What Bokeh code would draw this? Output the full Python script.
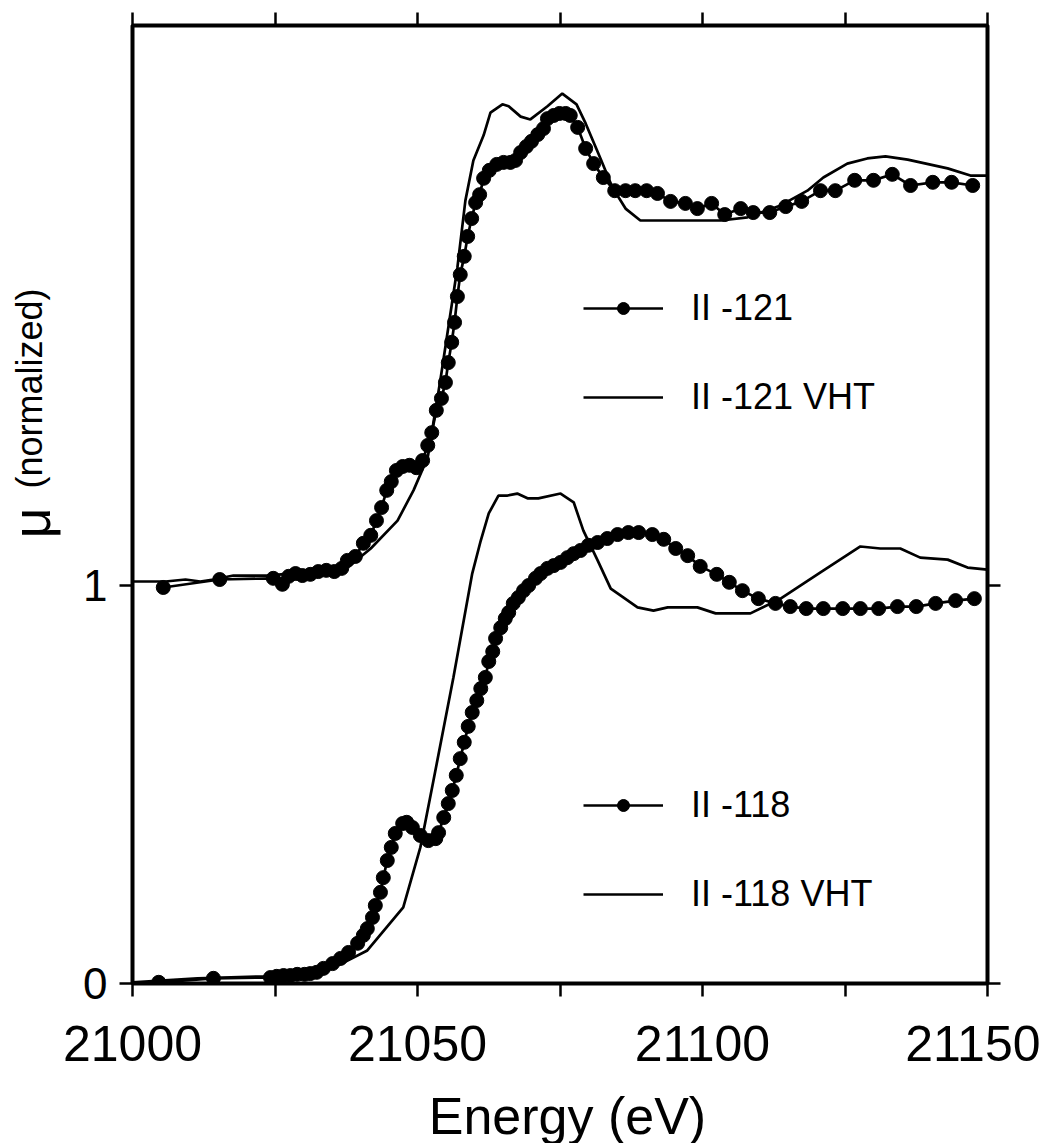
import math
from bokeh.plotting import figure
from bokeh.layouts import row, column
from bokeh.models import Range1d, LinearAxis, FixedTicker, Legend, LegendItem
from bokeh.core.properties import value
from bokeh.embed import file_html
from bokeh.resources import INLINE

FONT = "Liberation Sans"

# ---------------- data ----------------
x_ticks = [21000, 21025, 21050, 21075, 21100, 21125, 21150]
x_tick_labels = {21000: "21000", 21025: "", 21050: "21050", 21075: "", 21100: "21100", 21125: "", 21150: "21150"}
y_ticks = [0, 1]
x_title = "Energy (eV)"
y_title_symbol = "μ"
y_title_rest = "(normalized)"

# II -121 (points)
x121 = [21005.4, 21015.3, 21024.7, 21026.3, 21027.4, 21028.6, 21029.8, 21031.2, 21032.6, 21034.0,
        21035.4, 21036.7, 21037.7, 21039.1, 21040.5, 21041.8, 21042.8, 21043.7, 21044.6, 21045.4,
        21046.3, 21047.4, 21048.6, 21049.8, 21050.9, 21051.8, 21052.5, 21053.3, 21054.2, 21054.9,
        21055.4, 21056.0, 21056.5, 21057.0, 21057.5, 21058.2, 21058.8, 21059.5, 21060.2, 21060.9,
        21061.6, 21062.6, 21063.9, 21065.1, 21066.3, 21067.2, 21068.1, 21069.1, 21070.0, 21071.1,
        21072.1, 21072.8, 21073.9, 21074.9, 21076.0, 21076.8, 21078.1, 21079.5, 21080.9, 21082.6,
        21084.6, 21086.5, 21088.2, 21090.2, 21092.1, 21094.4, 21097.0, 21099.1, 21101.6, 21103.9,
        21106.7, 21108.9, 21111.8, 21114.6, 21117.4, 21120.7, 21123.3, 21126.7, 21130.0, 21133.3,
        21136.5, 21140.4, 21143.7, 21147.4]
y121 = [0.995, 1.015, 1.018, 1.003, 1.023, 1.030, 1.025, 1.028, 1.035, 1.038,
        1.035, 1.043, 1.063, 1.073, 1.106, 1.126, 1.163, 1.196, 1.239, 1.261,
        1.289, 1.299, 1.302, 1.296, 1.314, 1.352, 1.384, 1.440, 1.470, 1.510,
        1.560, 1.611, 1.661, 1.726, 1.781, 1.827, 1.877, 1.922, 1.962, 1.982,
        2.023, 2.043, 2.058, 2.063, 2.063, 2.068, 2.088, 2.103, 2.116, 2.133,
        2.148, 2.173, 2.181, 2.186, 2.186, 2.181, 2.151, 2.098, 2.060, 2.025,
        1.992, 1.992, 1.992, 1.992, 1.985, 1.965, 1.960, 1.947, 1.960, 1.932,
        1.947, 1.937, 1.937, 1.952, 1.965, 1.992, 1.992, 2.018, 2.018, 2.033,
        2.005, 2.013, 2.013, 2.005]

# II -121 VHT (line)
xv121 = [21000.0, 21005.8, 21009.3, 21011.9, 21014.2, 21017.7, 21024.2, 21027.2, 21037.7, 21041.8,
         21046.5, 21049.3, 21051.8, 21054.0, 21057.0, 21058.4, 21059.8, 21061.6, 21062.8, 21064.9,
         21066.0, 21068.1, 21069.8, 21072.8, 21075.4, 21077.9, 21079.5, 21082.1, 21084.2, 21086.5,
         21089.1, 21103.2, 21107.9, 21113.7, 21118.4, 21121.2, 21125.4, 21128.9, 21132.1, 21136.0,
         21143.0, 21147.0, 21150.0]
yv121 = [1.010, 1.010, 1.015, 1.010, 1.015, 1.025, 1.025, 1.030, 1.045, 1.093,
         1.163, 1.239, 1.322, 1.515, 1.799, 1.967, 2.068, 2.131, 2.188, 2.209,
         2.204, 2.178, 2.171, 2.204, 2.236, 2.209, 2.161, 2.073, 2.000, 1.947,
         1.917, 1.917, 1.925, 1.955, 1.992, 2.025, 2.060, 2.073, 2.078, 2.070,
         2.048, 2.030, 2.030]

# II -118 (points)
x118 = [21004.6, 21014.2, 21024.2, 21025.3, 21026.5, 21027.7, 21028.9, 21030.2, 21031.2, 21032.3,
        21033.5, 21035.1, 21036.5, 21037.9, 21039.5, 21040.5, 21041.2, 21042.1, 21042.6, 21043.5,
        21044.0, 21044.7, 21045.4, 21046.1, 21047.4, 21048.1, 21049.1, 21050.5, 21051.9, 21053.2,
        21053.7, 21054.6, 21055.4, 21056.1, 21056.8, 21057.5, 21058.2, 21058.9, 21059.6, 21060.4,
        21061.1, 21061.9, 21062.5, 21063.2, 21063.7, 21064.6, 21065.4, 21066.0, 21066.8, 21067.7,
        21068.6, 21069.5, 21070.7, 21071.6, 21072.8, 21073.9, 21075.1, 21076.3, 21077.4, 21078.6,
        21080.0, 21081.6, 21083.3, 21085.1, 21087.0, 21088.8, 21091.2, 21093.2, 21095.3, 21097.4,
        21099.6, 21102.5, 21104.7, 21107.0, 21109.8, 21112.8, 21115.4, 21118.2, 21121.2, 21124.6,
        21127.7, 21130.9, 21134.2, 21137.5, 21140.9, 21144.4, 21147.7]
y118 = [0.003, 0.013, 0.015, 0.018, 0.020, 0.020, 0.023, 0.023, 0.025, 0.028,
        0.038, 0.050, 0.063, 0.078, 0.101, 0.121, 0.138, 0.166, 0.196, 0.229,
        0.266, 0.309, 0.342, 0.377, 0.402, 0.405, 0.392, 0.372, 0.359, 0.364,
        0.379, 0.417, 0.452, 0.485, 0.523, 0.565, 0.606, 0.646, 0.681, 0.711,
        0.741, 0.769, 0.809, 0.834, 0.867, 0.894, 0.917, 0.932, 0.955, 0.970,
        0.987, 1.000, 1.018, 1.030, 1.043, 1.050, 1.058, 1.070, 1.080, 1.088,
        1.101, 1.108, 1.118, 1.128, 1.133, 1.133, 1.128, 1.116, 1.093, 1.075,
        1.048, 1.028, 1.008, 0.987, 0.967, 0.955, 0.947, 0.942, 0.942, 0.942,
        0.942, 0.942, 0.947, 0.947, 0.955, 0.962, 0.967]

# II -118 VHT (line)
xv118 = [21000.0, 21011.4, 21023.7, 21031.8, 21036.0, 21041.2, 21047.5, 21050.5, 21052.8, 21056.3,
         21059.6, 21061.1, 21062.5, 21064.2, 21065.8, 21067.5, 21069.3, 21071.2, 21075.1, 21077.4,
         21079.1, 21081.6, 21083.9, 21085.6, 21088.6, 21091.4, 21093.9, 21099.1, 21102.3, 21108.4,
         21113.7, 21120.7, 21127.7, 21131.2, 21134.7, 21138.2, 21143.0, 21146.5, 21150.0]
yv118 = [0.003, 0.013, 0.018, 0.028, 0.045, 0.083, 0.191, 0.342, 0.510, 0.769,
         1.030, 1.113, 1.181, 1.226, 1.226, 1.231, 1.219, 1.219, 1.231, 1.209,
         1.138, 1.063, 0.992, 0.975, 0.945, 0.937, 0.945, 0.945, 0.930, 0.930,
         0.967, 1.033, 1.098, 1.093, 1.093, 1.070, 1.065, 1.045, 1.040]

# ---------------- layout sizes ----------------
LEFT_W = 62          # strip holding the y title
BORDER_L = 70
MAIN_W = BORDER_L + 855 + 53
MAIN_H = 1085
BOTTOM_H = 58        # strip holding the x title
TOTAL_H = MAIN_H + BOTTOM_H

# ---------------- main figure ----------------
p = figure(width=MAIN_W, height=MAIN_H, output_backend="svg", toolbar_location=None,
           x_range=Range1d(21000, 21150), y_range=Range1d(0, 2.407),
           min_border_left=BORDER_L, min_border_right=53, min_border_top=25, min_border_bottom=102)
p.grid.visible = False
p.outline_line_color = "black"
p.outline_line_width = 4
p.background_fill_color = "white"
p.border_fill_color = "white"


def style_axis(ax, ticks, labels_on, label_size):
    ax.ticker = FixedTicker(ticks=ticks)
    ax.axis_line_color = None
    ax.major_tick_line_width = 2.5
    ax.major_tick_line_color = "black"
    ax.major_tick_out = 13
    ax.major_tick_in = 0
    ax.minor_tick_line_color = None
    if labels_on:
        ax.major_label_text_font = FONT
        ax.major_label_text_font_size = label_size
        ax.major_label_text_color = "black"
    else:
        ax.major_label_text_font_size = "0px"
        ax.major_label_text_color = None


xb = p.xaxis[0]
style_axis(xb, x_ticks, True, "50px")
xb.major_label_overrides = x_tick_labels
xb.major_label_standoff = 29

yl = p.yaxis[0]
style_axis(yl, y_ticks, True, "44px")
yl.major_label_standoff = 12

xa = LinearAxis()
style_axis(xa, x_ticks, False, "0px")
p.add_layout(xa, "above")
yr = LinearAxis()
style_axis(yr, y_ticks, False, "0px")
p.add_layout(yr, "right")

# ---------------- series ----------------
LW = 2.7
l121 = p.line(x121, y121, line_color="black", line_width=LW)
s121 = p.scatter(x121, y121, size=14, marker="circle", fill_color="black", line_color="black")
v121 = p.line(xv121, yv121, line_color="black", line_width=LW)
l118 = p.line(x118, y118, line_color="black", line_width=LW)
s118 = p.scatter(x118, y118, size=14, marker="circle", fill_color="black", line_color="black")
v118 = p.line(xv118, yv118, line_color="black", line_width=LW)


def make_legend(items, loc):
    lg = Legend(items=items, location=loc, orientation="vertical",
                border_line_color=None, background_fill_alpha=0,
                padding=0, margin=0, spacing=39,
                glyph_width=80, glyph_height=30, label_height=50,
                label_standoff=28, label_text_font=FONT,
                label_text_font_size="36px", label_text_color="black")
    p.add_layout(lg, "center")


make_legend([LegendItem(label="II -121", renderers=[l121, s121]),
             LegendItem(label="II -121 VHT", renderers=[v121])], (451, 561))
make_legend([LegendItem(label="II -118", renderers=[l118, s118]),
             LegendItem(label="II -118 VHT", renderers=[v118])], (451, 64))

# ---------------- y title strip (left) ----------------
pl = figure(width=LEFT_W, height=TOTAL_H, output_backend="svg", toolbar_location=None,
            x_range=Range1d(0, LEFT_W), y_range=Range1d(0, TOTAL_H),
            x_axis_type=None, y_axis_type=None, min_border=0)
pl.outline_line_color = None
pl.grid.visible = False
pl.text(x=[30], y=[TOTAL_H - 538], text=[y_title_symbol], angle=math.pi / 2,
        text_font=value(FONT), text_font_size="54px", text_align="left",
        text_baseline="alphabetic", text_color="black")
pl.text(x=[29], y=[TOTAL_H - 488], text=[y_title_rest], angle=math.pi / 2,
        text_font=value(FONT), text_font_size="36px", text_align="left",
        text_baseline="alphabetic", text_color="black")

# ---------------- x title strip (bottom) ----------------
pb = figure(width=MAIN_W, height=BOTTOM_H, output_backend="svg", toolbar_location=None,
            x_range=Range1d(0, MAIN_W), y_range=Range1d(0, BOTTOM_H),
            x_axis_type=None, y_axis_type=None, min_border=0)
pb.outline_line_color = None
pb.grid.visible = False
pb.text(x=[BORDER_L + 855 / 2], y=[28], text=[x_title],
        text_font=value(FONT), text_font_size="52px", text_align="center",
        text_baseline="alphabetic", text_color="black")

layout = row(pl, column(p, pb, spacing=0), spacing=0)
open("out.html", "w").write(file_html(layout, INLINE))
